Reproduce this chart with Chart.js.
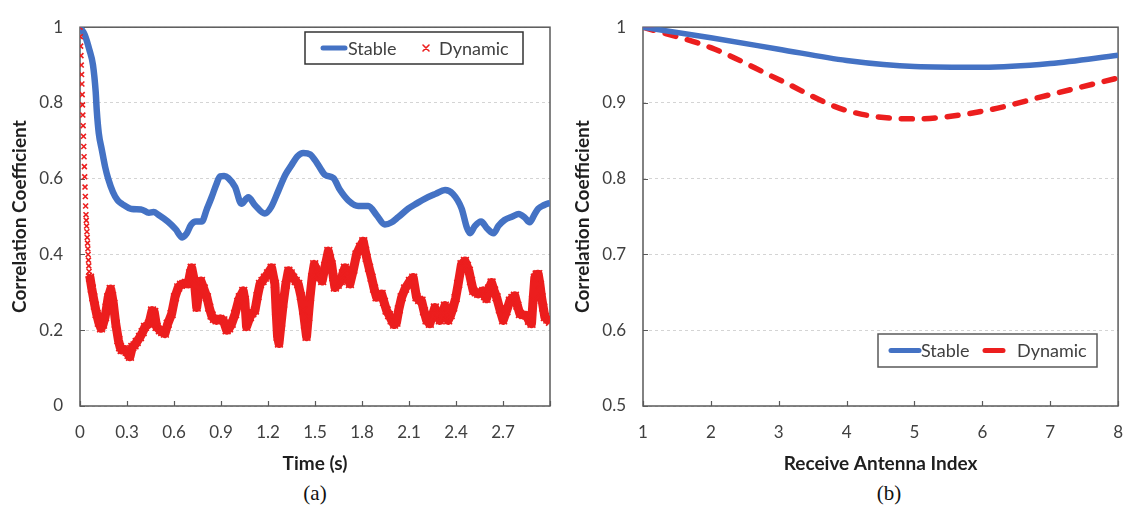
<!DOCTYPE html>
<html>
<head>
<meta charset="utf-8">
<title>Correlation coefficient</title>
<script src="https://cdn.jsdelivr.net/npm/chart.js@4.4.1/dist/chart.umd.min.js"></script>
<style>
  body { margin: 0; background: #fff; width: 1127px; height: 510px; position: relative; overflow: hidden; }
  canvas { position: absolute; top: 0; }
  #timeChart { left: 0; }
  #antennaChart { left: 563px; }
  .caption { position: absolute; top: 481px; font-family: "Liberation Serif", serif; font-size: 21px; color: #111; transform: translateX(-50%); }
</style>
</head>
<body>
<canvas id="timeChart" width="566" height="480"></canvas>
<canvas id="antennaChart" width="576" height="480"></canvas>
<div class="caption" style="left:315px">(a)</div>
<div class="caption" style="left:889px">(b)</div>

<script>
// --- Panel (a): correlation over time ---
const timeTicksMax = 3.0;
const stableTime = [0, 0.03, 0.06, 0.083, 0.1, 0.107, 0.12, 0.14, 0.16, 0.18, 0.21, 0.24, 0.27, 0.33, 0.39, 0.44, 0.47, 0.5,
  0.56, 0.61, 0.653, 0.68, 0.71, 0.74, 0.777, 0.81, 0.84, 0.87, 0.894, 0.92, 0.946, 0.99, 1.03, 1.074, 1.117, 1.18, 1.22,
  1.266, 1.31, 1.35, 1.39, 1.425, 1.47, 1.5, 1.53, 1.564, 1.617, 1.66, 1.712, 1.776, 1.84, 1.893, 1.946, 1.99, 2.03, 2.095,
  2.15, 2.2, 2.27, 2.33, 2.38, 2.436, 2.47, 2.49, 2.52, 2.56, 2.6, 2.64, 2.67, 2.71, 2.76, 2.8, 2.84, 2.87, 2.9, 2.925,
  2.96, 2.99, 3.0];
const stableCorr = [1.0, 0.98, 0.94, 0.9, 0.83, 0.78, 0.72, 0.675, 0.632, 0.6, 0.565, 0.543, 0.533, 0.52, 0.519, 0.51, 0.512, 0.505,
  0.487, 0.467, 0.445, 0.455, 0.479, 0.487, 0.487, 0.52, 0.551, 0.585, 0.606, 0.607, 0.602, 0.578, 0.534, 0.551, 0.53, 0.508, 0.525,
  0.568, 0.61, 0.636, 0.66, 0.668, 0.664, 0.649, 0.63, 0.61, 0.602, 0.57, 0.543, 0.528, 0.528, 0.504, 0.479, 0.485, 0.498, 0.521,
  0.535, 0.547, 0.56, 0.57, 0.56, 0.521, 0.47, 0.456, 0.475, 0.487, 0.468, 0.456, 0.475, 0.491, 0.5, 0.507, 0.497, 0.485, 0.505, 0.521,
  0.53, 0.535, 0.536];

const dynamicTime = [0, 0.002, 0.004, 0.006, 0.008, 0.010, 0.012, 0.014, 0.016, 0.018, 0.020, 0.022, 0.024, 0.026, 0.028, 0.030,
  0.032, 0.034, 0.036, 0.038, 0.040, 0.042, 0.044, 0.046, 0.048, 0.050, 0.052, 0.054, 0.056, 0.058, 0.060,
  0.064, 0.075, 0.085, 0.095, 0.106, 0.12, 0.134, 0.147, 0.16, 0.17, 0.18, 0.196, 0.205, 0.213, 0.228, 0.245, 0.256, 0.266,
  0.28, 0.298, 0.31, 0.319, 0.334, 0.348, 0.362, 0.383, 0.4, 0.415, 0.44, 0.46, 0.474, 0.489, 0.51, 0.525, 0.542, 0.56,
  0.585, 0.606, 0.627, 0.645, 0.66, 0.675, 0.69, 0.703, 0.713, 0.73, 0.745, 0.758, 0.772, 0.79, 0.81, 0.825, 0.84, 0.855,
  0.872, 0.895, 0.915, 0.936, 0.952, 0.968, 0.99, 1.01, 1.02, 1.042, 1.052, 1.063, 1.085, 1.1, 1.117, 1.133, 1.149, 1.165,
  1.18, 1.2, 1.223, 1.244, 1.252, 1.261, 1.27, 1.284, 1.297, 1.313, 1.33, 1.345, 1.361, 1.377, 1.393, 1.41, 1.425, 1.436,
  1.446, 1.457, 1.468, 1.482, 1.495, 1.508, 1.52, 1.533, 1.546, 1.565, 1.585, 1.595, 1.606, 1.617, 1.627, 1.645, 1.665,
  1.678, 1.691, 1.707, 1.723, 1.745, 1.765, 1.787, 1.808, 1.82, 1.83, 1.845, 1.861, 1.877, 1.893, 1.91, 1.925, 1.94,
  1.957, 1.973, 1.989, 2.005, 2.02, 2.035, 2.053, 2.075, 2.106, 2.127, 2.148, 2.165, 2.18, 2.196, 2.212, 2.233, 2.25,
  2.265, 2.28, 2.297, 2.313, 2.329, 2.34, 2.35, 2.366, 2.382, 2.398, 2.414, 2.435, 2.457, 2.47, 2.482, 2.496, 2.51, 2.526,
  2.542, 2.558, 2.574, 2.585, 2.595, 2.611, 2.627, 2.643, 2.659, 2.68, 2.701, 2.722, 2.744, 2.76, 2.776, 2.792, 2.808,
  2.83, 2.85, 2.866, 2.882, 2.892, 2.903, 2.915, 2.925, 2.936, 2.946, 2.957, 2.967, 2.983, 3.0];
const dynamicCorr = [1.0, 0.975, 0.95, 0.925, 0.9, 0.875, 0.85, 0.822, 0.795, 0.768, 0.74, 0.712, 0.685, 0.658, 0.632, 0.605,
  0.578, 0.553, 0.528, 0.505, 0.49, 0.475, 0.46, 0.445, 0.43, 0.415, 0.4, 0.385, 0.37, 0.355, 0.345,
  0.339, 0.31, 0.287, 0.265, 0.243, 0.22, 0.205, 0.215, 0.235, 0.26, 0.287, 0.309, 0.29, 0.27, 0.217, 0.174, 0.155, 0.148,
  0.15, 0.143, 0.135, 0.13, 0.156, 0.16, 0.169, 0.182, 0.195, 0.209, 0.217, 0.252, 0.248, 0.209, 0.2, 0.195, 0.191, 0.217,
  0.243, 0.287, 0.313, 0.32, 0.322, 0.325, 0.322, 0.35, 0.365, 0.33, 0.26, 0.3, 0.33, 0.31, 0.287, 0.26, 0.239, 0.23,
  0.226, 0.23, 0.226, 0.2, 0.205, 0.217, 0.243, 0.275, 0.287, 0.304, 0.28, 0.209, 0.235, 0.245, 0.252, 0.29, 0.322, 0.33,
  0.339, 0.35, 0.365, 0.322, 0.25, 0.183, 0.165, 0.22, 0.27, 0.32, 0.357, 0.35, 0.339, 0.33, 0.322, 0.29, 0.252, 0.215,
  0.183, 0.235, 0.287, 0.34, 0.374, 0.36, 0.348, 0.34, 0.33, 0.37, 0.409, 0.39, 0.374, 0.34, 0.313, 0.32, 0.33,
  0.35, 0.365, 0.34, 0.322, 0.36, 0.4, 0.42, 0.435, 0.41, 0.391, 0.365, 0.339, 0.31, 0.287, 0.29, 0.296, 0.275,
  0.252, 0.24, 0.226, 0.215, 0.22, 0.255, 0.287, 0.31, 0.33, 0.339, 0.287, 0.28, 0.278, 0.25, 0.226, 0.217, 0.24,
  0.26, 0.24, 0.226, 0.245, 0.265, 0.24, 0.226, 0.24, 0.26, 0.285, 0.322, 0.374, 0.383, 0.37, 0.357, 0.33, 0.304, 0.3,
  0.296, 0.3, 0.304, 0.29, 0.283, 0.31, 0.326, 0.305, 0.287, 0.255, 0.226, 0.25, 0.278, 0.285, 0.291, 0.265, 0.243,
  0.24, 0.239, 0.225, 0.217, 0.28, 0.339, 0.347, 0.348, 0.32, 0.287, 0.26, 0.235, 0.228, 0.222];

// --- Panel (b): correlation per receive antenna ---
const antennaIndex = [1, 2, 3, 4, 5, 6, 7, 8];
const antennaStable = [1.0, 0.986, 0.971, 0.956, 0.948, 0.947, 0.952, 0.963];
const antennaDynamic = [1.0, 0.973, 0.931, 0.89, 0.879, 0.889, 0.911, 0.933];

const BLUE = '#4472c4';
const RED = '#ec1e1e';
const TICK_COLOR = '#404040';
const TITLE_COLOR = '#1e1e1e';
const FONT = 'Lato';
const DROP_END = 0.061; // markers before this time are drawn without a joining line

function toPoints(xs, ys) {
  return xs.map((x, i) => ({ x: x, y: ys[i] }));
}

function trimNumber(v) {
  return String(Number(v.toFixed(2)));
}

// Frame around the plot area plus short inward tick marks on both axes
const plotFrame = {
  id: 'plotFrame',
  beforeDatasetsDraw(chart) {
    const { ctx, chartArea: a, scales } = chart;
    ctx.save();
    ctx.strokeStyle = '#5a5a5a';
    ctx.lineWidth = 1.5;
    ctx.strokeRect(a.left, a.top, a.right - a.left, a.bottom - a.top);
    ctx.lineWidth = 1.2;
    ctx.beginPath();
    scales.x.ticks.forEach((t, i) => {
      const px = Math.round(scales.x.getPixelForTick(i)) + 0.5;
      ctx.moveTo(px, a.bottom);
      ctx.lineTo(px, a.bottom - 5);
    });
    scales.y.ticks.forEach((t, i) => {
      const py = Math.round(scales.y.getPixelForTick(i)) + 0.5;
      ctx.moveTo(a.left, py);
      ctx.lineTo(a.left + 5, py);
    });
    ctx.stroke();
    ctx.restore();
  }
};

// Boxed legend drawn inside the plot area
const boxLegend = {
  id: 'boxLegend',
  afterDraw(chart, args, opts) {
    const { ctx } = chart;
    ctx.save();
    ctx.fillStyle = '#fff';
    ctx.fillRect(opts.box.x, opts.box.y, opts.box.w, opts.box.h);
    ctx.strokeStyle = opts.border;
    ctx.lineWidth = 1.5;
    ctx.strokeRect(opts.box.x, opts.box.y, opts.box.w, opts.box.h);
    const cy = opts.box.y + opts.box.h / 2;
    chart.data.datasets.forEach((ds, i) => {
      const it = opts.items[i];
      ctx.strokeStyle = ds.borderColor;
      if (it.marker) {
        ctx.lineWidth = 1.6;
        const r = 3;
        ctx.beginPath();
        ctx.moveTo(it.sx - r, cy - r); ctx.lineTo(it.sx + r, cy + r);
        ctx.moveTo(it.sx - r, cy + r); ctx.lineTo(it.sx + r, cy - r);
        ctx.stroke();
      } else {
        ctx.lineWidth = 5;
        ctx.lineCap = 'round';
        ctx.beginPath();
        ctx.moveTo(it.sx, cy);
        ctx.lineTo(it.ex, cy);
        ctx.stroke();
      }
      ctx.fillStyle = TICK_COLOR;
      ctx.font = '18px ' + FONT;
      ctx.textBaseline = 'middle';
      ctx.fillText(ds.label, it.tx, cy + 1);
    });
    ctx.restore();
  }
};

function axisOptions(cfg) {
  return {
    x: {
      type: 'linear',
      min: cfg.xMin, max: cfg.xMax,
      afterFit: s => { s.height = 74; },
      grid: { display: false, drawTicks: false },
      border: { display: false },
      ticks: {
        stepSize: cfg.xStep,
        padding: 16,
        color: TICK_COLOR,
        font: { family: FONT, size: 17 },
        maxRotation: 0,
        callback: cfg.xLabel
      },
      title: {
        display: true, text: cfg.xTitle, color: TITLE_COLOR,
        font: { family: FONT, size: 19, weight: 'bold' },
        padding: { top: 0, bottom: 5 }
      }
    },
    y: {
      min: cfg.yMin, max: cfg.yMax,
      afterFit: s => { s.width = 80; },
      grid: { color: '#d4d4d4', lineWidth: 1, drawTicks: false },
      border: { display: false, dash: [3, 3] },
      ticks: {
        stepSize: cfg.yStep,
        padding: 17,
        color: TICK_COLOR,
        font: { family: FONT, size: 17 },
        callback: v => trimNumber(v)
      },
      title: {
        display: true, text: 'Correlation Coefficient', color: TITLE_COLOR,
        font: { family: FONT, size: 19, weight: 'bold' },
        padding: { top: 8, bottom: 0 }
      }
    }
  };
}

new Chart(document.getElementById('timeChart'), {
  type: 'line',
  data: {
    datasets: [
      {
        label: 'Stable',
        data: toPoints(stableTime, stableCorr),
        borderColor: BLUE,
        borderWidth: 6.5,
        cubicInterpolationMode: 'monotone',
        pointRadius: 0,
        order: 1
      },
      {
        label: 'Dynamic',
        data: toPoints(dynamicTime, dynamicCorr),
        borderColor: RED,
        backgroundColor: RED,
        borderWidth: 9,
        borderJoinStyle: 'round',
        tension: 0,
        pointStyle: 'crossRot',
        pointRadius: c => (c.parsed && c.parsed.x <= DROP_END ? 3.5 : 5.5),
        pointBorderWidth: 1.6,
        pointBorderColor: RED,
        // the initial drop shows only separate markers
        segment: { borderColor: c => (c.p1.parsed.x <= DROP_END ? 'rgba(0,0,0,0)' : RED) },
        order: 0
      }
    ]
  },
  options: {
    responsive: false,
    animation: false,
    layout: { padding: { top: 14, right: 13, left: 0, bottom: 0 } },
    plugins: {
      legend: { display: false },
      tooltip: { enabled: false },
      boxLegend: {
        box: { x: 305, y: 32, w: 218, h: 32 },
        border: '#333',
        items: [{ sx: 323, ex: 345, tx: 348 }, { marker: true, sx: 426, tx: 439 }]
      }
    },
    scales: axisOptions({
      xMin: 0, xMax: timeTicksMax, xStep: 0.3, xTitle: 'Time (s)',
      xLabel: v => (v >= timeTicksMax - 0.01 ? '' : trimNumber(v)),
      yMin: 0, yMax: 1, yStep: 0.2
    })
  },
  plugins: [plotFrame, boxLegend]
});

new Chart(document.getElementById('antennaChart'), {
  type: 'line',
  data: {
    datasets: [
      {
        label: 'Stable',
        data: toPoints(antennaIndex, antennaStable),
        borderColor: BLUE,
        borderWidth: 5.5,
        cubicInterpolationMode: 'monotone',
        pointRadius: 0
      },
      {
        label: 'Dynamic',
        data: toPoints(antennaIndex, antennaDynamic),
        borderColor: RED,
        borderWidth: 5.5,
        borderDash: [11, 12],
        borderCapStyle: 'round',
        cubicInterpolationMode: 'monotone',
        pointRadius: 0
      }
    ]
  },
  options: {
    responsive: false,
    animation: false,
    layout: { padding: { top: 14, right: 9, left: 0, bottom: 0 } },
    plugins: {
      legend: { display: false },
      tooltip: { enabled: false },
      boxLegend: {
        box: { x: 315, y: 334, w: 219, h: 33 },
        border: '#595959',
        items: [{ sx: 328, ex: 356, tx: 358 }, { sx: 422, ex: 440, tx: 454 }]
      }
    },
    scales: axisOptions({
      xMin: 1, xMax: 8, xStep: 1, xTitle: 'Receive Antenna Index',
      xLabel: v => trimNumber(v),
      yMin: 0.5, yMax: 1, yStep: 0.1
    })
  },
  plugins: [plotFrame, boxLegend]
});
</script>
</body>
</html>
